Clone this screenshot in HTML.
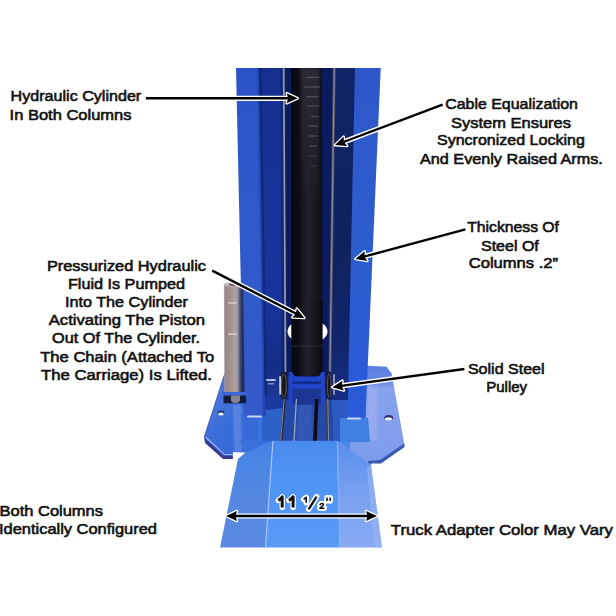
<!DOCTYPE html>
<html><head><meta charset="utf-8">
<style>
html,body{margin:0;padding:0;background:#fff;width:616px;height:616px;overflow:hidden}
svg{display:block}
text{font-family:"Liberation Sans",sans-serif;font-weight:400;font-size:15.2px;fill:#111;stroke:#111;stroke-width:0.6px}
</style></head>
<body>
<svg width="616" height="616" viewBox="0 0 616 616">
<defs>
  <filter id="bl" x="-20%" y="-20%" width="140%" height="140%"><feGaussianBlur stdDeviation="0.5"/></filter>
  <filter id="bl1" x="-20%" y="-20%" width="140%" height="140%"><feGaussianBlur stdDeviation="1"/></filter>
  <linearGradient id="cyl" x1="0" x2="1" y1="0" y2="0">
    <stop offset="0" stop-color="#08080e"/>
    <stop offset="0.22" stop-color="#0c0c14"/>
    <stop offset="0.5" stop-color="#231f2a"/>
    <stop offset="0.8" stop-color="#16151b"/>
    <stop offset="1" stop-color="#07070c"/>
  </linearGradient>
  <linearGradient id="lface" gradientUnits="userSpaceOnUse" x1="0" x2="0" y1="68" y2="418">
    <stop offset="0" stop-color="#2b52c6"/>
    <stop offset="0.15" stop-color="#2d56c8"/>
    <stop offset="0.5" stop-color="#2f5acc"/>
    <stop offset="0.9" stop-color="#3459c8"/>
    <stop offset="1" stop-color="#3459c8"/>
  </linearGradient>
  <linearGradient id="rface" gradientUnits="userSpaceOnUse" x1="0" x2="0" y1="68" y2="418">
    <stop offset="0" stop-color="#2d56c8"/>
    <stop offset="0.2" stop-color="#2f5acb"/>
    <stop offset="0.5" stop-color="#2b5dcd"/>
    <stop offset="1" stop-color="#2a5ad8"/>
  </linearGradient>
  <linearGradient id="linner" gradientUnits="userSpaceOnUse" x1="0" x2="0" y1="68" y2="400">
    <stop offset="0" stop-color="#15308e"/>
    <stop offset="0.4" stop-color="#17339a"/>
    <stop offset="0.7" stop-color="#18349c"/>
    <stop offset="0.9" stop-color="#142d86"/>
    <stop offset="1" stop-color="#1a3a98"/>
  </linearGradient>
  <linearGradient id="rinner" gradientUnits="userSpaceOnUse" x1="0" x2="0" y1="68" y2="418">
    <stop offset="0" stop-color="#0f2366"/>
    <stop offset="0.5" stop-color="#10225e"/>
    <stop offset="0.75" stop-color="#112468"/>
    <stop offset="1" stop-color="#18308a"/>
  </linearGradient>
  <linearGradient id="pipe" x1="0" x2="1" y1="0" y2="0">
    <stop offset="0" stop-color="#c8c0c4"/>
    <stop offset="0.06" stop-color="#9a8486"/>
    <stop offset="0.35" stop-color="#a4938f"/>
    <stop offset="0.55" stop-color="#b0a4a0"/>
    <stop offset="0.66" stop-color="#9898a8"/>
    <stop offset="0.78" stop-color="#4a5070"/>
    <stop offset="0.9" stop-color="#202c60"/>
    <stop offset="1" stop-color="#1a2a60"/>
  </linearGradient>
  <linearGradient id="lplate" gradientUnits="userSpaceOnUse" x1="205" y1="380" x2="262" y2="420">
    <stop offset="0" stop-color="#5a84e4"/>
    <stop offset="0.3" stop-color="#4676dc"/>
    <stop offset="0.65" stop-color="#3a6cd8"/>
    <stop offset="1" stop-color="#3668d6"/>
  </linearGradient>
  <linearGradient id="rplate" gradientUnits="userSpaceOnUse" x1="0" y1="366" x2="0" y2="462">
    <stop offset="0" stop-color="#5a7ee0"/>
    <stop offset="0.14" stop-color="#6486e2"/>
    <stop offset="0.24" stop-color="#88a2ec"/>
    <stop offset="0.55" stop-color="#84a0ec"/>
    <stop offset="1" stop-color="#7c9cec"/>
  </linearGradient>
  <linearGradient id="adL" gradientUnits="userSpaceOnUse" x1="0" x2="0" y1="441" y2="547">
    <stop offset="0" stop-color="#4280e4"/>
    <stop offset="0.2" stop-color="#4a86e4"/>
    <stop offset="0.55" stop-color="#5488e0"/>
    <stop offset="1" stop-color="#5a8ae0"/>
  </linearGradient>
  <linearGradient id="adC" gradientUnits="userSpaceOnUse" x1="0" x2="0" y1="441" y2="547">
    <stop offset="0" stop-color="#4a8aee"/>
    <stop offset="0.35" stop-color="#4e94f4"/>
    <stop offset="0.65" stop-color="#5297f5"/>
    <stop offset="1" stop-color="#5a9af4"/>
  </linearGradient>
  <linearGradient id="adR" gradientUnits="userSpaceOnUse" x1="0" x2="0" y1="441" y2="547">
    <stop offset="0" stop-color="#5a8eec"/>
    <stop offset="0.2" stop-color="#6496ee"/>
    <stop offset="0.5" stop-color="#78a0f0"/>
    <stop offset="1" stop-color="#88aaf2"/>
  </linearGradient>
</defs>
<rect width="616" height="616" fill="#fff"/>

<!-- ===== BASE PLATE ===== -->
<!-- left plate -->
<polygon points="224.5,374 246,372 262,372 262,453 245.4,452.5 233,452 232.7,459 223.2,459 205.3,443 204,437" fill="url(#lplate)"/>
<polygon points="233,405 241,405 242,452 234,452" fill="#80a0ee" opacity="0.45" filter="url(#bl1)"/>
<line x1="224.5" y1="374.5" x2="204.3" y2="437" stroke="#3a4ea8" stroke-width="1" opacity="0.7"/>
<!-- left plate bevel -->
<polygon points="204,437 205.3,443 223.2,459 232.7,459 232.7,456 224,456 206.5,440" fill="#3a3a8a"/>
<polyline points="205.5,437 224.5,454.5 233,454.5" fill="none" stroke="#a0aaf8" stroke-width="1.2"/>
<!-- plate middle (between column feet) -->
<polygon points="240,440 276,438 272.9,441 245.4,452.5" fill="#3a70da"/>
<polygon points="334,438 372,438 372,463 371,465 337,441" fill="#4a86e6"/>
<polygon points="258,396 352,396 356,442 258,442" fill="#3474e0"/>
<polygon points="262,398 286,398 284,441 262,441" fill="#2a5cc0" opacity="0.8"/>
<polygon points="284,398 332,398 334,441 282,441" fill="#2448a8"/>
<polygon points="298,404 312,404 313,441 297,441" fill="#3058b4" filter="url(#bl1)"/>
<polygon points="332,398 352,398 354,441 334,441" fill="#2c5ac0"/>
<!-- right plate -->
<polygon points="350,366 368.2,365.7 386.7,366.7 391.6,373.5 404.2,443.6 404.5,446 381,462 368,462 350,462" fill="url(#rplate)"/>
<polygon points="367,386 376,386 378,440 367,440" fill="#a8b6f2" opacity="0.55" filter="url(#bl1)"/>
<polygon points="404.2,443.6 404.5,447 381,463.5 368,463.5 368,461 380,460" fill="#3a5ab0"/>
<ellipse cx="388.7" cy="417.6" rx="4.4" ry="2.6" fill="#2a3070"/><ellipse cx="388.5" cy="418.8" rx="3.6" ry="1.6" fill="#f4f6fc"/>
<ellipse cx="221" cy="412.8" rx="3.4" ry="2.4" fill="#2a3070"/><ellipse cx="221" cy="414" rx="2.8" ry="1.5" fill="#f0f4fc"/>
<!-- plate area below right column face -->
<polygon points="340,418 368,418 370,442 340,442" fill="#3f80e4"/>

<!-- ===== COLUMN ===== -->
<polygon points="258,68 360,68 350,400 264,400" fill="#132c86"/>
<!-- left outer bright face -->
<polygon points="236,68 259,68 265,416 243.8,416" fill="url(#lface)"/>
<polygon points="257,68 259.5,68 265.5,416 263,416" fill="#2346b2"/>
<!-- left inner darker face -->
<polygon points="259,68 283,68 284.5,396 264.8,396" fill="url(#linner)"/>
<polygon points="259,68 261.5,68 267,396 264.8,396" fill="#0d2266" opacity="0.6"/>
<polygon points="280.5,68 283,68 284.5,396 282,396" fill="#0c1f60" opacity="0.6"/>
<polygon points="264.8,396 284.5,396 284,408 265,410" fill="#1a3aa0"/>
<!-- dark gap left -->
<polygon points="283,68 292,68 291.5,376 285,376" fill="#0c1c5c"/>
<!-- cylinder -->
<polygon points="291,68 325,68 322.7,301 291.3,301" fill="url(#cyl)"/>
<!-- right dark gap -->
<polygon points="322,68 335,68 330,376 322.4,376" fill="#0c1a60"/>
<!-- right dark navy face -->
<polygon points="334,68 355,68 348.2,398 329.5,398" fill="url(#rinner)"/>
<!-- right bright face -->
<polygon points="355,68 380.7,68 365.5,418 347.5,418" fill="url(#rface)"/>

<!-- chain region texture -->
<linearGradient id="chainfade" x1="0" x2="0" y1="0" y2="1">
  <stop offset="0" stop-color="#2c2a32" stop-opacity="0.9"/>
  <stop offset="0.6" stop-color="#28262e" stop-opacity="0.6"/>
  <stop offset="1" stop-color="#221f28" stop-opacity="0"/>
</linearGradient>
<rect x="302" y="68.5" width="16" height="140" fill="url(#chainfade)"/>
<rect x="299.5" y="68.5" width="2.5" height="140" fill="url(#chainfade)" opacity="0.5"/>
<rect x="318" y="68.5" width="2.5" height="140" fill="url(#chainfade)" opacity="0.5"/>
<!-- chain dashes on cylinder -->
<g stroke="#70707a" stroke-width="1.3" opacity="0.55" filter="url(#bl)">
  <line x1="306" y1="77.4" x2="319" y2="77.4"/>
  <line x1="304" y1="87" x2="320" y2="87"/>
  <line x1="306" y1="96.7" x2="319" y2="96.7"/>
  <line x1="307" y1="106" x2="319" y2="106"/>
  <line x1="311" y1="116.5" x2="319" y2="116.5"/>
  <line x1="308" y1="126" x2="318" y2="126"/>
  <line x1="309" y1="136" x2="318" y2="136"/>
  <line x1="310" y1="146" x2="317" y2="146"/>
  <line x1="310" y1="156" x2="317" y2="156" opacity="0.6"/>
  <line x1="311" y1="166" x2="317" y2="166" opacity="0.5"/>
</g>

<!-- cables -->
<line x1="283.7" y1="68" x2="285.5" y2="372" stroke="#9696a6" stroke-width="1.8"/>
<line x1="334.3" y1="68" x2="330" y2="372" stroke="#4a4a62" stroke-width="3"/>
<line x1="334.3" y1="68" x2="330" y2="372" stroke="#8c8c9e" stroke-width="1.2"/>

<!-- white hole behind cylinder -->
<ellipse cx="307.5" cy="331.5" rx="20" ry="12.5" fill="#fff"/>
<path d="M291.3,300 L322.7,300 L322.5,371 Q322.5,376 317.5,376 L296.3,376 Q291.3,376 291.3,371 Z" fill="url(#cyl)"/>
<line x1="291.5" y1="346" x2="322.5" y2="346" stroke="#2c2a30" stroke-width="1"/>


<!-- carriage bracket -->
<path d="M288.6,372 L292.3,372 Q293.5,377 299,377.3 L315,377.3 Q320.5,377 321,372 L324.8,372 L325,405 L288.7,405 Z" fill="#2244c8"/>
<rect x="292.5" y="381.3" width="28.5" height="2.6" fill="#112c8a"/>
<rect x="292.5" y="388.6" width="28.5" height="16" fill="#1a3592"/>
<!-- pulleys -->
<ellipse cx="283.5" cy="385.5" rx="4.6" ry="14.2" fill="#18181e"/>
<ellipse cx="283.8" cy="385.5" rx="2.6" ry="12" fill="none" stroke="#55556a" stroke-width="1"/>
<rect x="279.2" y="376" width="1.8" height="19" rx="0.9" fill="#c8c8d4"/>
<ellipse cx="329" cy="385.5" rx="3.6" ry="14.2" fill="#18181e"/>
<ellipse cx="329.2" cy="385.5" rx="1.8" ry="12" fill="none" stroke="#55556a" stroke-width="1"/>
<rect x="333.3" y="374" width="1.4" height="21" rx="0.7" fill="#b8bccc"/>
<rect x="266" y="379" width="10" height="2" rx="1" fill="#b4bcd8"/>
<rect x="268" y="383" width="6" height="1.5" fill="#8890b8"/>
<!-- lower chain/cable area -->
<line x1="284.8" y1="399" x2="281.2" y2="441" stroke="#2a2a36" stroke-width="2.6"/>
<line x1="284.2" y1="399" x2="280.6" y2="441" stroke="#a0a0b0" stroke-width="0.8"/>
<line x1="296.4" y1="399" x2="294" y2="441" stroke="#a8acc0" stroke-width="1.2"/>
<line x1="316.7" y1="399" x2="315" y2="441" stroke="#0c0c14" stroke-width="3.6"/>
<line x1="327.2" y1="399" x2="328" y2="441" stroke="#3a3a48" stroke-width="2.6"/>
<line x1="327.8" y1="399" x2="328.6" y2="441" stroke="#a0a0b4" stroke-width="0.8"/>
<!-- weld highlights -->
<rect x="247" y="415.5" width="15" height="2" rx="1" fill="#c8d4f0"/>
<rect x="347" y="417.5" width="14" height="2" rx="1" fill="#c8d4f0"/>

<!-- ===== PIPE ===== -->
<polygon points="223.8,284 243,284 244.6,392.5 224.4,392.5" fill="url(#pipe)"/>
<ellipse cx="232.5" cy="284.5" rx="8.6" ry="2.6" fill="#c2b8b6"/>
<ellipse cx="233.5" cy="284.8" rx="5" ry="1.4" fill="#6a6070"/>
<rect x="228" y="302.3" width="9" height="1.2" fill="#e6e0e0"/>
<rect x="228" y="333.5" width="9" height="1.2" fill="#e6e0e0"/>
<!-- pipe bracket -->
<rect x="222.5" y="392" width="24" height="3.6" fill="#3a68d4"/>
<rect x="223.5" y="395.5" width="22.5" height="7.8" fill="#181c3c"/>
<path d="M231,395.5 L240,395.5 L240,400 Q240,403 235.5,403 Q231,403 231,400 Z" fill="#8a8290"/>

<!-- ===== TRUCK ADAPTER ===== -->
<!-- left face -->
<polygon points="245.4,452.5 272.9,440.8 265.5,547.5 220,547.5 238,459" fill="url(#adL)"/>
<!-- center face -->
<polygon points="272.9,440.8 337,440.8 339.5,547.5 265.5,547.5" fill="url(#adC)"/>
<!-- right face -->
<polygon points="337,440.8 371,465 382,547.5 339.5,547.5" fill="url(#adR)"/>
<polygon points="371,465 382,547.5 374,547.5 367,468" fill="#9ab6f4" opacity="0.6"/>
<line x1="337.5" y1="441" x2="340" y2="547.5" stroke="#8cb0f4" stroke-width="1.5" opacity="0.7"/>
<!-- crease highlight -->
<line x1="272.9" y1="441" x2="265.5" y2="547.5" stroke="#a8c4f6" stroke-width="1.2"/>

<!-- ===== ARROWS ===== -->
<g stroke-linecap="butt">
  <g stroke="#fff" stroke-width="5.2">
    <line x1="146.0" y1="98.3" x2="288.7" y2="98.3"/>
    <line x1="442.6" y1="104.6" x2="343.5" y2="142.0"/>
    <line x1="465.4" y1="229.4" x2="364.1" y2="256.6"/>
    <line x1="212.2" y1="270.6" x2="296.3" y2="313.8"/>
    <line x1="464.4" y1="369.0" x2="341.2" y2="385.9"/>
    <line x1="235.0" y1="516.0" x2="368.0" y2="516.0"/>
  </g>
  <g fill="#fff" stroke="#fff" stroke-width="2.6" stroke-linejoin="round">
    <polygon points="297.7,98.3 286.7,103.3 288.2,98.3 286.7,93.3"/>
    <polygon points="335.0,145.1 343.6,136.6 343.9,141.8 347.1,145.9"/>
    <polygon points="355.4,258.9 364.7,251.3 364.5,256.5 367.3,260.9"/>
    <polygon points="304.3,317.9 292.2,317.4 295.9,313.6 296.8,308.5"/>
    <polygon points="332.3,387.2 342.5,380.7 341.7,385.9 343.9,390.6"/>
    <polygon points="377.0,516.0 366.0,521.0 367.5,516.0 366.0,511.0"/>
    <polygon points="226.0,516.0 237.0,511.0 235.5,516.0 237.0,521.0"/>
  </g>
  <g stroke="#000" stroke-width="2.4">
    <line x1="146.0" y1="98.3" x2="288.7" y2="98.3"/>
    <line x1="442.6" y1="104.6" x2="343.5" y2="142.0"/>
    <line x1="465.4" y1="229.4" x2="364.1" y2="256.6"/>
    <line x1="212.2" y1="270.6" x2="296.3" y2="313.8"/>
    <line x1="464.4" y1="369.0" x2="341.2" y2="385.9"/>
    <line x1="235.0" y1="516.0" x2="368.0" y2="516.0"/>
  </g>
  <g fill="#000">
    <polygon points="297.7,98.3 286.7,103.3 288.2,98.3 286.7,93.3"/>
    <polygon points="335.0,145.1 343.6,136.6 343.9,141.8 347.1,145.9"/>
    <polygon points="355.4,258.9 364.7,251.3 364.5,256.5 367.3,260.9"/>
    <polygon points="304.3,317.9 292.2,317.4 295.9,313.6 296.8,308.5"/>
    <polygon points="332.3,387.2 342.5,380.7 341.7,385.9 343.9,390.6"/>
    <polygon points="377.0,516.0 366.0,521.0 367.5,516.0 366.0,511.0"/>
    <polygon points="226.0,516.0 237.0,511.0 235.5,516.0 237.0,521.0"/>
  </g>
</g>

<!-- ===== TEXT ===== -->
<text x="10.6" y="101.1" textLength="130.6" lengthAdjust="spacingAndGlyphs">Hydraulic Cylinder</text>
<text x="9.6" y="119.8" textLength="121.9" lengthAdjust="spacingAndGlyphs">In Both Columns</text>

<text x="445.2" y="109.2" textLength="132.8" lengthAdjust="spacingAndGlyphs">Cable Equalization</text>
<text x="451.0" y="127.8" textLength="120.0" lengthAdjust="spacingAndGlyphs">System Ensures</text>
<text x="437.0" y="145.3" textLength="147.8" lengthAdjust="spacingAndGlyphs">Syncronized Locking</text>
<text x="420.0" y="164.1" textLength="182.8" lengthAdjust="spacingAndGlyphs">And Evenly Raised Arms.</text>

<text x="467.2" y="232.2" textLength="91.8" lengthAdjust="spacingAndGlyphs">Thickness Of</text>
<text x="481.0" y="250.6" textLength="57.8" lengthAdjust="spacingAndGlyphs">Steel Of</text>
<text x="468.8" y="268.3" textLength="89.2" lengthAdjust="spacingAndGlyphs">Columns .2”</text>

<text x="46.9" y="270.7" textLength="159.1" lengthAdjust="spacingAndGlyphs">Pressurized Hydraulic</text>
<text x="67.9" y="288.9" textLength="117.1" lengthAdjust="spacingAndGlyphs">Fluid Is Pumped</text>
<text x="65.0" y="306.7" textLength="123.0" lengthAdjust="spacingAndGlyphs">Into The Cylinder</text>
<text x="48.7" y="325.0" textLength="156.3" lengthAdjust="spacingAndGlyphs">Activating The Piston</text>
<text x="52.1" y="342.9" textLength="147.9" lengthAdjust="spacingAndGlyphs">Out Of The Cylinder.</text>
<text x="40.2" y="361.8" textLength="174.0" lengthAdjust="spacingAndGlyphs">The Chain (Attached To</text>
<text x="41.0" y="379.8" textLength="171.0" lengthAdjust="spacingAndGlyphs">The Carriage) Is Lifted.</text>

<text x="467.9" y="373.9" textLength="76.7" lengthAdjust="spacingAndGlyphs">Solid Steel</text>
<text x="486.2" y="391.7" textLength="40.9" lengthAdjust="spacingAndGlyphs">Pulley</text>

<text x="-0.5" y="515.9" textLength="103.5" lengthAdjust="spacingAndGlyphs">Both Columns</text>
<text x="-1.0" y="534.3" textLength="158.0" lengthAdjust="spacingAndGlyphs">Identically Configured</text>

<text x="390.8" y="534.8" textLength="222.2" lengthAdjust="spacingAndGlyphs">Truck Adapter Color May Vary</text>

<!-- 11 1/2" -->
<g fill="none" stroke-linejoin="round" stroke-linecap="butt">
  <g stroke="#fff" stroke-width="5.4" stroke-linecap="round">
    <path d="M278.3,500.4 Q281,499 282.2,496.9 L282.2,507.6"/>
    <path d="M288.9,500.4 Q291.8,499 293.1,496.9 L293.1,507.6"/>
    <path d="M303.6,499.3 L306.2,497.3 L306.2,502.8"/>
    <path d="M308.6,509.3 L316.6,496.6"/>
    <path d="M319.8,505.2 Q320.5,503.4 322,503.5 Q323.8,503.7 323.3,505.3 L319.8,508.3 L324.3,508.3"/>
    <path d="M327,497.6 L327,501 M330.2,497.6 L330.2,501"/>
  </g>
  <g stroke="#111">
    <path d="M278.3,500.4 Q281,499 282.2,496.9 L282.2,507.6" stroke-width="3"/>
    <path d="M288.9,500.4 Q291.8,499 293.1,496.9 L293.1,507.6" stroke-width="3"/>
    <path d="M303.6,499.3 L306.2,497.3 L306.2,502.8" stroke-width="1.6"/>
    <path d="M308.6,509.3 L316.6,496.6" stroke-width="2.2"/>
    <path d="M319.8,505.2 Q320.5,503.4 322,503.5 Q323.8,503.7 323.3,505.3 L319.8,508.3 L324.3,508.3" stroke-width="1.5"/>
    <path d="M327,497.6 L327,501 M330.2,497.6 L330.2,501" stroke-width="1.6"/>
  </g>
</g>
</svg>
</body></html>
